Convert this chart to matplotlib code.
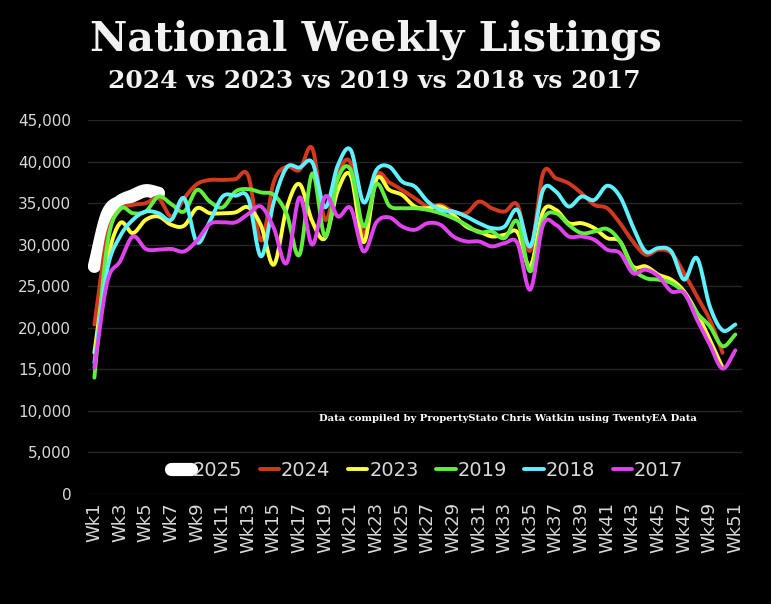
import numpy as np
import matplotlib
matplotlib.use("Agg")
import matplotlib.pyplot as plt

# Weekly listings
weeks = ["Wk%d" % i for i in range(1, 52)]

y2025 = [27400, 33600, 35200, 35900, 36500, 36200]

y2024 = [20400, 31000, 34200, 34800, 35000, 35600, 33400, 35600, 37300, 37800,
         37800, 37900, 38300, 30500, 37600, 39400, 39000, 41600, 33000, 38500,
         39800, 31200, 38300, 37500, 36600, 35600, 34600, 34800, 34000, 33800,
         35200, 34400, 34000, 34800, 29300, 38600, 38000, 37400, 36200, 34800,
         34400, 32600, 30400, 28800, 29400, 29000, 26600, 23800, 21000, 17000]

y2023 = [17000, 28000, 32600, 31400, 33000, 33400, 32400, 32300, 34400, 33800,
         33800, 33900, 34500, 32300, 27600, 34400, 37300, 32800, 30800, 36600,
         38300, 30300, 37900, 36600, 36000, 34600, 34400, 34600, 33600, 32200,
         31600, 31000, 31200, 31500, 27400, 34000, 34200, 32600, 32600, 32000,
         30800, 30400, 27400, 27400, 26400, 25800, 24400, 21800, 18600, 15200]

y2019 = [14000, 30000, 34300, 33800, 34000, 35800, 34900, 34000, 36600, 35200,
         34500, 36400, 36700, 36300, 36000, 33700, 28800, 38600, 31000, 38000,
         39000, 32200, 37300, 34700, 34400, 34400, 34200, 33800, 33200, 32400,
         31500, 31600, 30800, 32800, 26800, 33000, 33800, 32400, 31400, 31600,
         31900, 30400, 27200, 26000, 25800, 25400, 24200, 21800, 20200, 17800,
         19200]

y2018 = [15800, 27000, 31000, 33000, 34000, 33800, 33000, 35600, 30300, 32800,
         35800, 35900, 35600, 28600, 35200, 39300, 39300, 39900, 34500, 39600,
         41400, 35100, 39000, 39400, 37600, 37000, 35200, 34200, 34000, 33400,
         32600, 32000, 32200, 34200, 29800, 36600, 36400, 34600, 35800, 35400,
         37100, 35800, 32200, 29200, 29600, 29200, 25800, 28400, 22600, 19700,
         20400]

y2017 = [15200, 25500, 28000, 31000, 29500, 29400, 29500, 29200, 30500, 32500,
         32700, 32700, 33700, 34600, 32000, 27800, 35700, 30000, 35800, 33400,
         34400, 29200, 32700, 33300, 32200, 31800, 32600, 32400, 31000, 30400,
         30400, 29800, 30200, 30200, 24600, 32400, 32400, 31000, 31000, 30600,
         29400, 29000, 26600, 27000, 26200, 24400, 24200, 21000, 18000, 15100,
         17300]

series = [("2025", y2025, "#ffffff", 9.5),
          ("2024", y2024, "#d2391f", 2.8),
          ("2023", y2023, "#ffff3c", 2.8),
          ("2019", y2019, "#62ee3c", 2.8),
          ("2018", y2018, "#5ef2ff", 2.8),
          ("2017", y2017, "#e043ee", 2.8)]


def smooth(y, n=16):
    # Excel style smoothed line (Catmull-Rom through the points)
    y = np.asarray(y, dtype=float)
    x = np.arange(1, len(y) + 1, dtype=float)
    if len(y) < 3:
        return x, y
    m = np.empty_like(y)
    m[1:-1] = (y[2:] - y[:-2]) / 2
    m[0] = y[1] - y[0]
    m[-1] = y[-1] - y[-2]
    xs, ys = [], []
    t = np.linspace(0, 1, n, endpoint=False)
    for i in range(len(y) - 1):
        h00 = 2 * t**3 - 3 * t**2 + 1
        h10 = t**3 - 2 * t**2 + t
        h01 = -2 * t**3 + 3 * t**2
        h11 = t**3 - t**2
        xs.append(x[i] + t)
        ys.append(h00 * y[i] + h10 * m[i] + h01 * y[i + 1] + h11 * m[i + 1])
    xs.append([x[-1]])
    ys.append([y[-1]])
    return np.concatenate(xs), np.concatenate(ys)


fig = plt.figure(figsize=(7.71, 6.04), dpi=100, facecolor="black")
ax = fig.add_axes([0.1141, 0.1821, 0.848, 0.619], facecolor="black")

for name, vals, col, lw in series:
    sx, sy = smooth(vals)
    ax.plot(sx, sy, color=col, lw=lw, solid_capstyle="round",
            solid_joinstyle="round", label=name)

ax.set_xlim(0.5, 51.5)
ax.set_ylim(0, 45000)
ax.set_yticks(np.arange(0, 45001, 5000))
ax.set_yticklabels(["{:,}".format(v) for v in range(0, 45001, 5000)])
ax.set_xticks(np.arange(1, 52, 2))
ax.set_xticklabels(weeks[::2], rotation=90)
ax.grid(axis="y", color="#262626", lw=1)
ax.set_axisbelow(True)
for s in ax.spines.values():
    s.set_visible(False)
ax.tick_params(axis="both", length=0, colors="#d9d9d9")
ax.tick_params(axis="y", labelsize=11, pad=12)
ax.tick_params(axis="x", labelsize=13, pad=6)

leg = ax.legend(loc="center", bbox_to_anchor=(0.519, 0.064), ncol=6, frameon=False,
                fontsize=14, handlelength=1.0, handletextpad=0.1,
                columnspacing=0.9, labelcolor="#d9d9d9")

ax.text(0.642, 0.203, "Data compiled by PropertyStato Chris Watkin using TwentyEA Data",
        transform=ax.transAxes, ha="center", va="center", color="white",
        fontsize=7.2, family="DejaVu Serif", fontweight="bold")

fig.text(0.488, 0.917, "National Weekly Listings", ha="center", va="baseline",
         color="#f2f2f2", fontsize=29.5, family="DejaVu Serif", fontweight="bold")
fig.text(0.486, 0.855, "2024 vs 2023 vs 2019 vs 2018 vs 2017", ha="center",
         va="baseline", color="#f2f2f2", fontsize=18, family="DejaVu Serif",
         fontweight="bold")

fig.savefig("out.png", dpi=100, facecolor="black")
